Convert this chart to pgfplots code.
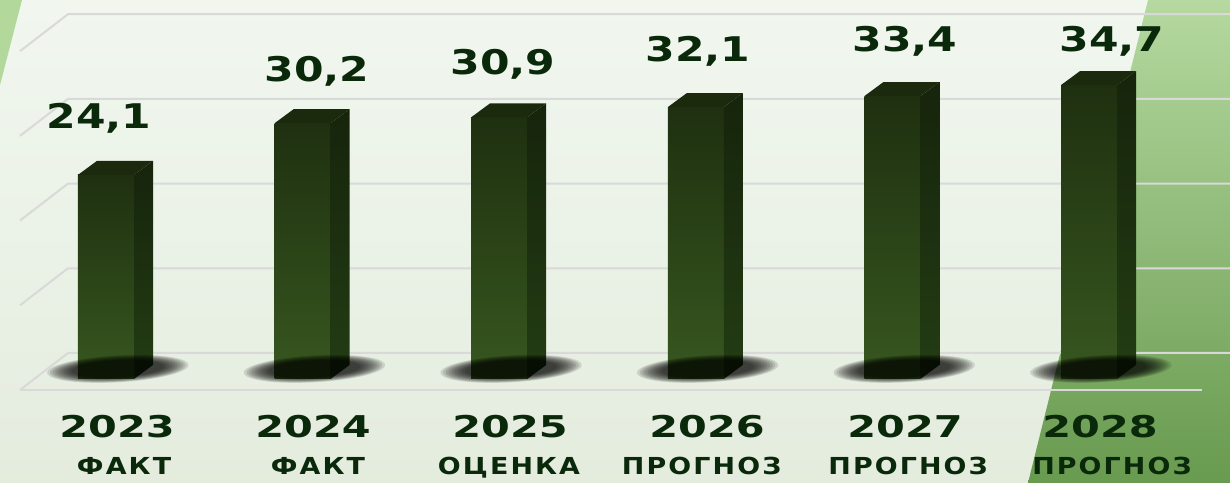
\documentclass[border=0pt]{standalone}
\usepackage{fontspec}
\usepackage{pgfplots}
\usepackage{pgfplotstable}
\pgfplotsset{compat=1.18}
\newfontfamily\valfont[FakeStretch=1.25]{DejaVu Sans}
\newfontfamily\yearfont[FakeStretch=1.38]{DejaVu Sans}
\newfontfamily\wordfont[FakeStretch=1.15,LetterSpace=9]{DejaVu Sans}
\newcommand\valfs{\valfont\bfseries\fontsize{17bp}{17bp}\selectfont}
\newcommand\yearfs{\yearfont\bfseries\fontsize{15bp}{15bp}\selectfont}
\newcommand\wordfs{\wordfont\bfseries\fontsize{11.7bp}{11.7bp}\selectfont}
\definecolor{txt}{HTML}{0A280A}
\definecolor{bgtop}{HTML}{F1F7EF}
\definecolor{bgbot}{HTML}{E4ECDE}
\definecolor{leftgreen}{HTML}{B2D89C}
\definecolor{grtop}{HTML}{B5D9A0}
\definecolor{grbot}{HTML}{689A4F}
\definecolor{gridc}{HTML}{D9D9D9}
\definecolor{frontTop}{HTML}{1F3010}
\definecolor{frontBot}{HTML}{37571F}
\definecolor{sideTop}{HTML}{16240B}
\definecolor{sideBot}{HTML}{233D14}
\definecolor{topc}{HTML}{1B290D}

\pgfdeclareplotmark{shadow}{%
  \pgftransformxslant{1.4}%
  \pgfsetfillcolor{black}%
  \pgfsetfillopacity{0.12}%
  \foreach \k in {0,...,9}{%
    \pgfmathsetlengthmacro\rx{34bp-1.3bp*\k}%
    \pgfmathsetlengthmacro\ry{7bp-0.3bp*\k}%
    \pgfpathellipse{\pgfpointorigin}{\pgfqpoint{\rx}{0pt}}{\pgfqpoint{0pt}{\ry}}%
    \pgfusepath{fill}%
  }%
}

\pgfplotstableread{
x v
0 24.1
1 30.2
2 30.9
3 32.1
4 33.4
5 34.7
}\bars
\pgfplotstableread{
x y label
-0.036 29.63 24,1
1.073 35.07 30,2
2.019 35.89 30,9
3.011 37.43 32,1
4.064 38.61 33,4
5.117 38.61 34,7
}\vals
\pgfplotstableread{
x y label
0.056 -6.966 2023
1.053 -6.966 2024
2.055 -6.966 2025
3.057 -6.966 2026
4.064 -6.966 2027
5.056 -6.966 2028
}\years
\pgfplotstableread{
x y label
0.092 -11.334 ФАКТ
1.078 -11.334 ФАКТ
2.050 -11.334 ОЦЕНКА
3.030 -11.334 ПРОГНОЗ
4.080 -11.334 ПРОГНОЗ
5.117 -11.334 ПРОГНОЗ
}\words

\begin{document}
\begin{tikzpicture}
\shade[top color=bgtop, bottom color=bgbot] (0,0) rectangle (615bp,241.5bp);
\fill[leftgreen] (0,241.5bp) -- (11bp,241.5bp) -- (0,199bp) -- cycle;
\shade[top color=grtop, bottom color=grbot] (574bp,241.5bp) -- (615bp,241.5bp) -- (615bp,0) -- (514bp,0) -- cycle;
\begin{axis}[at={(0,0)}, anchor=south west, scale only axis,
  width=615bp, height=241.5bp,
  xmin=-0.53917, xmax=5.71719, ymin=-12.279, ymax=44.746,
  hide axis, clip=false]
% grid
\addplot[gridc, line width=1bp] coordinates {(-0.4374,-1.298) (5.5748,-1.298)};
\addplot[gridc, line width=1bp] coordinates {(-0.4374,-1.298) (-0.1933,3.07) (5.7172,3.07)};
\addplot[gridc, line width=1bp] coordinates {(-0.4374,8.702) (-0.1933,13.07) (5.7172,13.07)};
\addplot[gridc, line width=1bp] coordinates {(-0.4374,18.702) (-0.1933,23.07) (5.7172,23.07)};
\addplot[gridc, line width=1bp] coordinates {(-0.4374,28.702) (-0.1933,33.07) (5.7172,33.07)};
\addplot[gridc, line width=1bp] coordinates {(-0.4374,38.702) (-0.1933,43.07) (5.7172,43.07)};
% shadows
\addplot[draw=none, only marks, mark=shadow] table[x expr=\thisrow{x}+0.06, y expr=1.2] {\bars};
% bars
\pgfplotsinvokeforeach{0,...,5}{
  \pgfplotstablegetelem{#1}{v}\of\bars
  \pgfmathsetmacro\V{\pgfplotsretval}
  \pgfmathsetmacro\Vh{\pgfplotsretval+1.653}
  \pgfmathsetmacro\L{#1-0.14242}
  \pgfmathsetmacro\R{#1+0.14242}
  \pgfmathsetmacro\Ld{#1-0.14242+0.09664}
  \pgfmathsetmacro\Rd{#1+0.14242+0.09664}
  \edef\temp{%
    \noexpand\addplot[draw=none, top color=frontTop, bottom color=frontBot] coordinates {(\L,0) (\R,0) (\R,\V) (\L,\V)} -- cycle;
    \noexpand\addplot[draw=none, top color=sideTop, bottom color=sideBot] coordinates {(\R,0) (\Rd,1.653) (\Rd,\Vh) (\R,\V)} -- cycle;
    \noexpand\addplot[draw=none, fill=topc] coordinates {(\L,\V) (\Ld,\Vh) (\Rd,\Vh) (\R,\V)} -- cycle;
  }\temp
}
% labels
\addplot[draw=none, mark=none, nodes near coords, point meta=explicit symbolic,
  nodes near coords style={anchor=base, text=txt, font=\valfs, inner sep=0pt}]
  table[x=x, y=y, meta=label] {\vals};
\addplot[draw=none, mark=none, nodes near coords, point meta=explicit symbolic,
  nodes near coords style={anchor=base, text=txt, font=\yearfs, inner sep=0pt}]
  table[x=x, y=y, meta=label] {\years};
\addplot[draw=none, mark=none, nodes near coords, point meta=explicit symbolic,
  nodes near coords style={anchor=base, text=txt, font=\wordfs, inner sep=0pt}]
  table[x=x, y=y, meta=label] {\words};
\end{axis}
\pgfresetboundingbox
\useasboundingbox (0,0) rectangle (615bp,241.5bp);
\end{tikzpicture}
\end{document}
